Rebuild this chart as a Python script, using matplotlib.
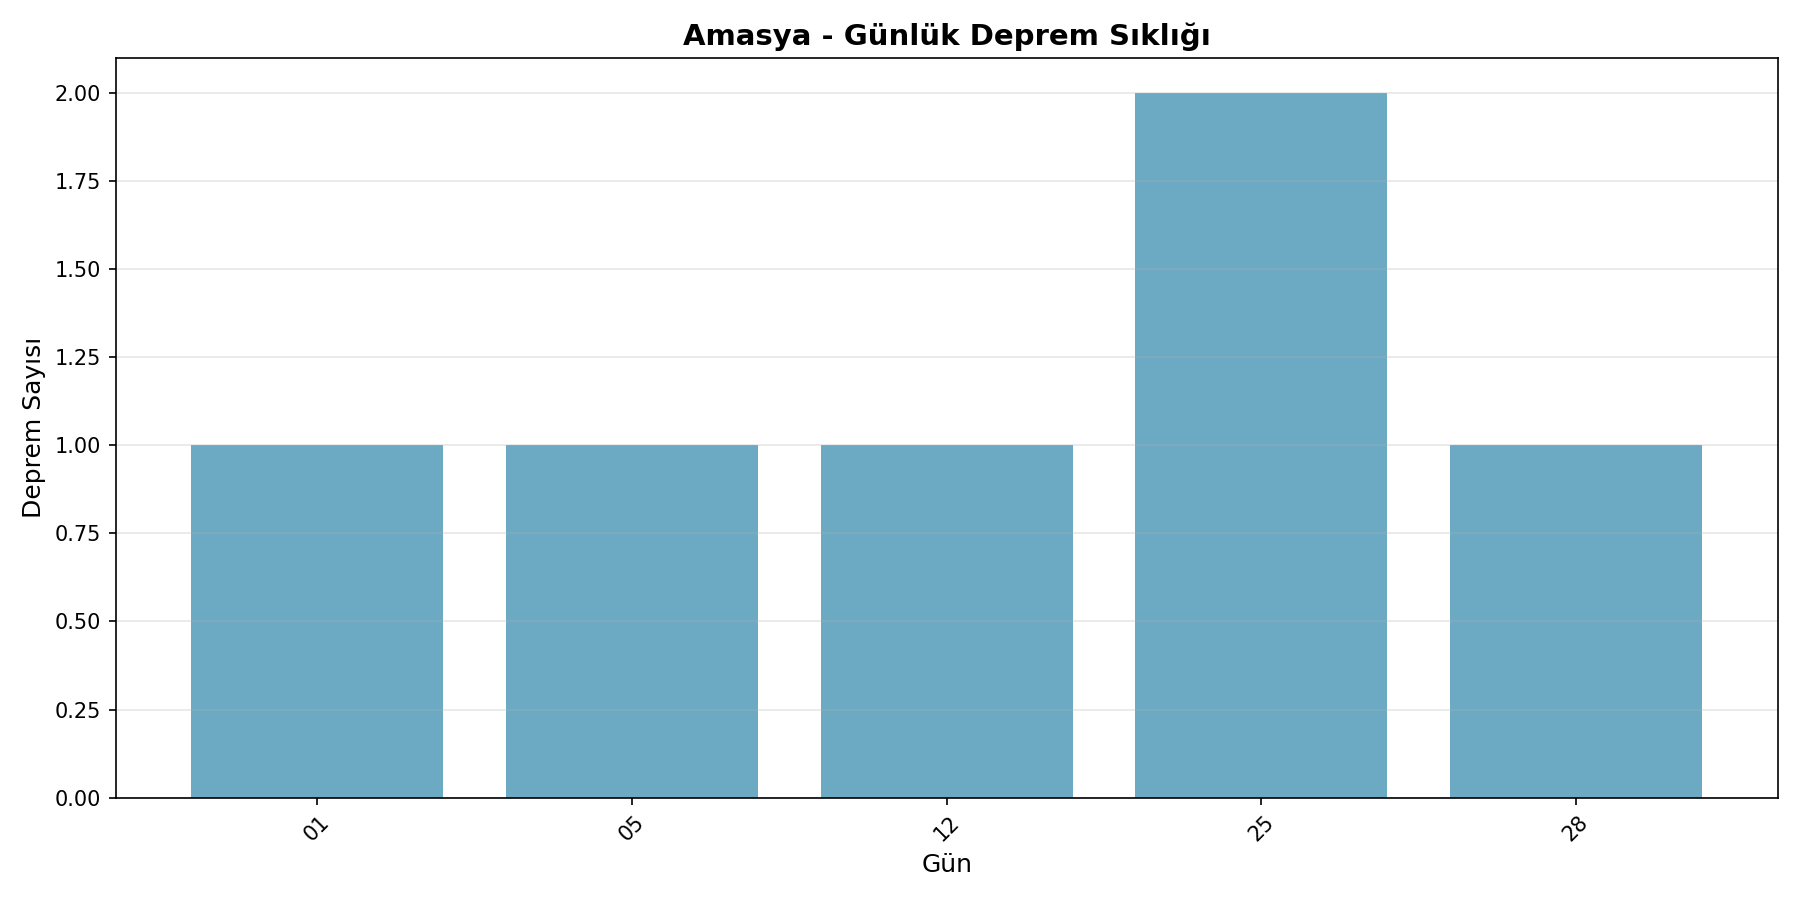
import matplotlib
matplotlib.use("Agg")
import matplotlib.pyplot as plt

days = ["01", "05", "12", "25", "28"]
counts = [1, 1, 1, 2, 1]

fig, ax = plt.subplots(figsize=(12, 6), dpi=150)
ax.bar(days, counts, color="#2E86AB", alpha=0.7)
ax.set_title("Amasya - Günlük Deprem Sıklığı", fontsize=14, fontweight="bold")
ax.set_xlabel("Gün", fontsize=12)
ax.set_ylabel("Deprem Sayısı", fontsize=12)
ax.grid(axis="y", alpha=0.3)
plt.setp(ax.get_xticklabels(), rotation=45)
fig.tight_layout()
fig.savefig("out.png")
